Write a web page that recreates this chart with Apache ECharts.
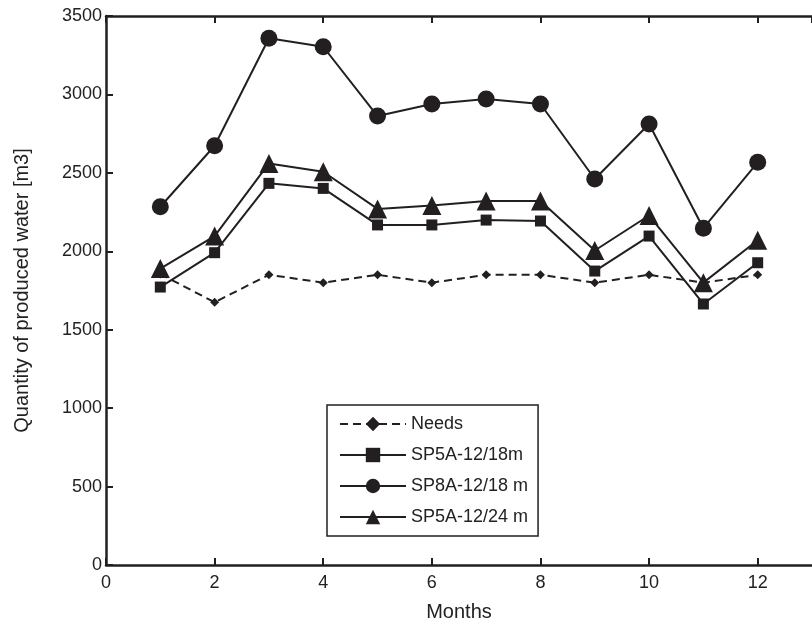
<!DOCTYPE html>
<html>
<head>
<meta charset="utf-8">
<script src="https://cdn.jsdelivr.net/npm/echarts@6/dist/echarts.min.js"></script>
<style>html,body{margin:0;padding:0;background:#fff;}#c{width:812px;height:628px;}</style>
</head>
<body>
<div id="c"></div>
<script>
var months = [1,2,3,4,5,6,7,8,9,10,11,12];
var needs = [1855,1675,1850,1800,1850,1800,1850,1850,1800,1850,1800,1850];
var sp5a18 = [1772,1991,2433,2401,2168,2168,2199,2193,1874,2097,1664,1927];
var sp8a18 = [2284,2673,3358,3304,2862,2939,2971,2939,2461,2811,2147,2567];
var sp5a24 = [1890,2097,2560,2507,2270,2292,2320,2320,2005,2228,1800,2070];
var names = ['Needs','SP5A-12/18m','SP8A-12/18 m','SP5A-12/24 m'];
var yTicks = [0,500,1000,1500,2000,2500,3000,3500];

function pairs(arr){ return months.map(function(m,i){ return [m, arr[i]]; }); }
var ink = '#231f20';
var chart = echarts.init(document.getElementById('c'));
function ser(name, data, symbol, size, dashed){
  return {
    name: name, type: 'line', data: pairs(data), symbol: symbol, symbolSize: size,
    lineStyle: {color: ink, width: 2, type: dashed ? [8,5] : 'solid'},
    itemStyle: {color: ink},
    emphasis: {disabled: true}, animation: false, z: 3
  };
}
var axisFont = {fontFamily: 'Liberation Sans', fontSize: 18, color: '#222'};
chart.setOption({
  backgroundColor: '#fff',
  animation: false,
  grid: {left: 106, top: 16, width: 715, bottom: 63, containLabel: false},
  legend: {
    orient: 'vertical', left: 327, top: 405,
    data: names,
    itemWidth: 66, itemHeight: 18, itemGap: 13,
    padding: [10, 10, 10, 12],
    borderColor: ink, borderWidth: 1.5,
    backgroundColor: '#fff',
    textStyle: {fontFamily: 'Liberation Sans', fontSize: 18, color: '#222'},
    z: 10
  },
  xAxis: [{
    type: 'value', min: 0, max: 13, interval: 2, position: 'bottom',
    name: 'Months', nameLocation: 'middle', nameGap: 37,
    nameTextStyle: {fontFamily: 'Liberation Sans', fontSize: 20, color: '#222'},
    axisLine: {show: true, onZero: false, lineStyle: {color: ink, width: 2.5}},
    axisTick: {show: true, inside: true, length: 7, lineStyle: {color: ink, width: 2}},
    axisLabel: Object.assign({margin: 9, showMaxLabel: false, formatter: function(v){ return v % 2 === 0 && v <= 12 ? String(v) : ''; }}, axisFont),
    splitLine: {show: false}
  },{
    type: 'value', min: 0, max: 13, interval: 2, position: 'top',
    axisLine: {show: true, onZero: false, lineStyle: {color: ink, width: 2.5}},
    axisTick: {show: true, inside: true, length: 7, lineStyle: {color: ink, width: 2}},
    axisLabel: {show: false},
    splitLine: {show: false}
  }],
  yAxis: {
    type: 'value', min: 0, max: 3500, interval: 500,
    name: 'Quantity of produced water [m3]', nameLocation: 'middle', nameGap: 74,
    nameTextStyle: {fontFamily: 'Liberation Sans', fontSize: 20, color: '#222'},
    axisLine: {show: true, onZero: false, lineStyle: {color: ink, width: 2.5}},
    axisTick: {show: true, inside: true, length: 7, lineStyle: {color: ink, width: 2}},
    axisLabel: Object.assign({margin: 4, formatter: function(v){ return yTicks.indexOf(v) >= 0 ? String(v) : ''; }}, axisFont),
    splitLine: {show: false}
  },
  series: [
    ser(names[0], needs, 'diamond', 9, true),
    ser(names[1], sp5a18, 'rect', 11, false),
    ser(names[2], sp8a18, 'circle', 17, false),
    ser(names[3], sp5a24, 'triangle', 19, false)
  ]
});
</script>
</body>
</html>
